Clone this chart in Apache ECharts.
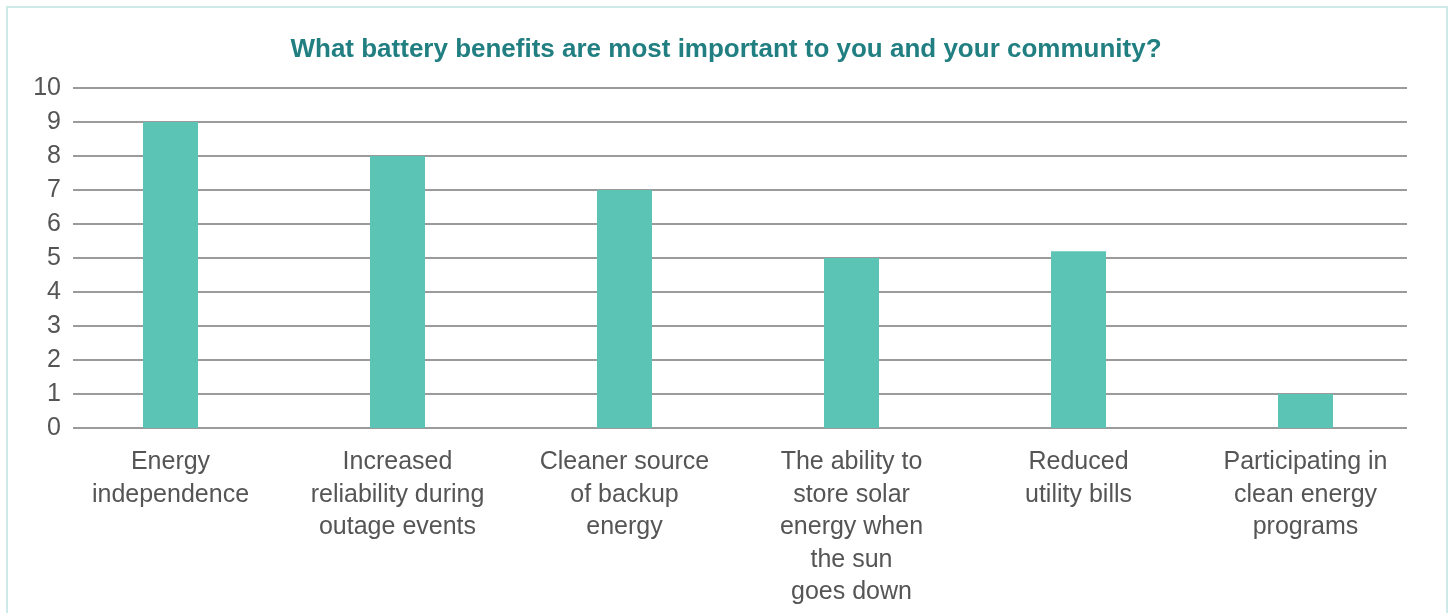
<!DOCTYPE html>
<html><head><meta charset="utf-8">
<script src="https://cdn.jsdelivr.net/npm/echarts@6/dist/echarts.min.js"></script>
<style>
html,body{margin:0;padding:0;background:#fff;overflow:hidden;}
#frame{position:absolute;left:6px;top:6px;width:1442px;height:700px;border:2px solid #CBEAE8;box-sizing:border-box;}
#chart{position:absolute;left:0;top:0;width:1452px;height:613px;}
</style></head>
<body>
<div id="frame"></div>
<div id="chart"></div>
<script>
const titleText = "What battery benefits are most important to you and your community?";
const categories = [
  "Energy\nindependence",
  "Increased\nreliability during\noutage events",
  "Cleaner source\nof backup\nenergy",
  "The ability to\nstore solar\nenergy when\nthe sun\ngoes down",
  "Reduced\nutility bills",
  "Participating in\nclean energy\nprograms"
];
const values = [9, 8, 7, 5, 5.2, 1];
const yMin = 0, yMax = 10, yStep = 1;

const chart = echarts.init(document.getElementById('chart'));
const font = "'Liberation Sans', Arial, sans-serif";
chart.setOption({
  animation: false,
  title: {
    text: titleText, left: 'center', top: 32,
    textStyle: {color: '#217F82', fontSize: 26, fontWeight: 'bold', fontFamily: font}
  },
  grid: [
    {left: 73, top: 88, width: 1334, height: 340},
    {left: 57, top: 88, width: 1362, height: 340}
  ],
  xAxis: [
    {gridIndex: 0, type: 'category', data: categories, show: false},
    {gridIndex: 1, type: 'category', data: categories,
     axisLine: {show: false}, axisTick: {show: false},
     axisLabel: {color: '#555', fontSize: 25, fontFamily: font, lineHeight: 32.5, margin: 18, interval: 0}}
  ],
  yAxis: [
    {gridIndex: 0, type: 'value', min: yMin, max: yMax, interval: yStep,
     axisLine: {show: false}, axisTick: {show: false},
     axisLabel: {color: '#555', fontSize: 25, fontFamily: font, margin: 12},
     splitLine: {lineStyle: {color: '#9B9B9B', width: 2}}},
    {gridIndex: 1, type: 'value', min: yMin, max: yMax, interval: yStep, show: false,
     splitLine: {show: false}}
  ],
  series: [{
    type: 'bar', xAxisIndex: 1, yAxisIndex: 1, data: values,
    barWidth: 55, itemStyle: {color: '#5BC4B4'}
  }]
});
</script>
</body></html>
